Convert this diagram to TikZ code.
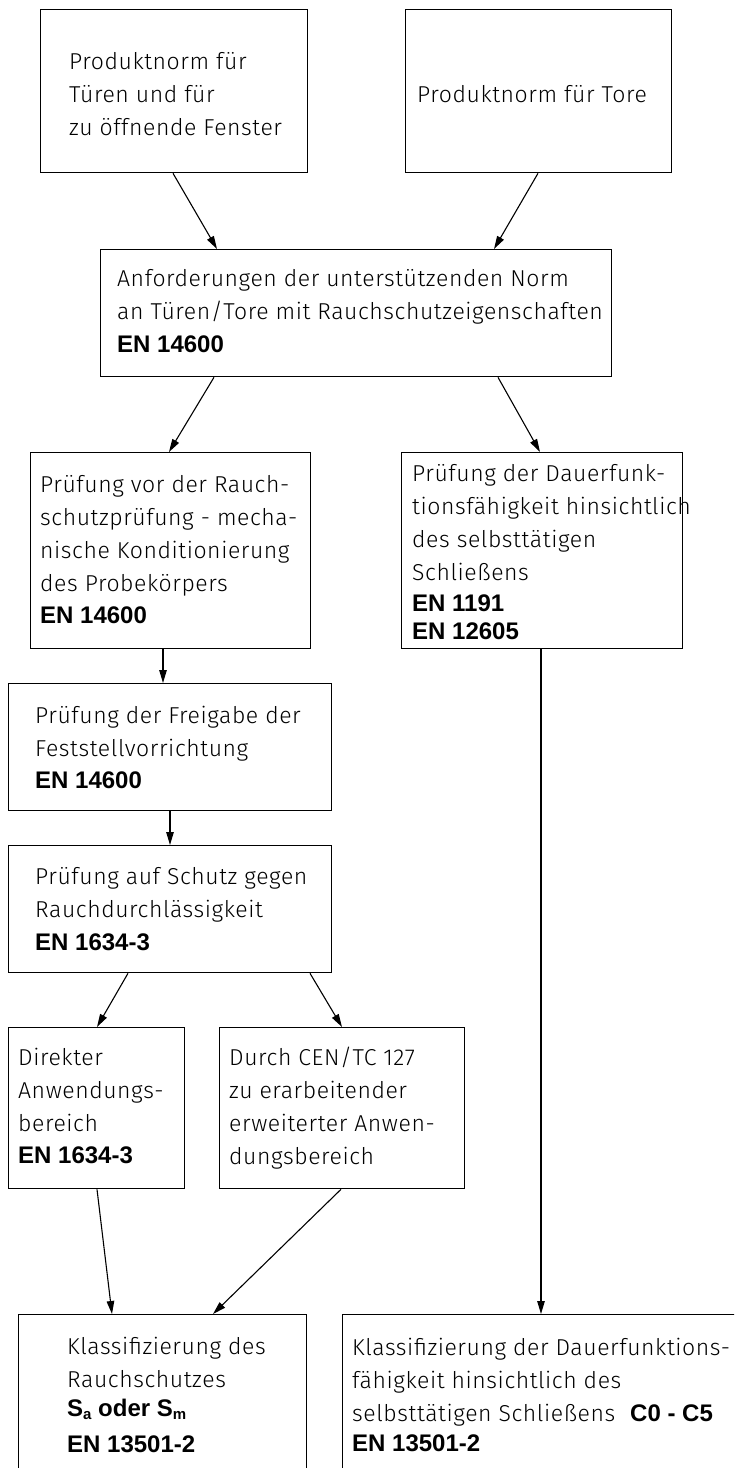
\documentclass[tikz,border=0pt]{standalone}
\usepackage{fontspec}
\usetikzlibrary{arrows.meta,calc}
\IfFontExistsTF{Fira Sans Light}{\newfontfamily\lightfont{Fira Sans Light}[LetterSpace=2.5]}{\newfontfamily\lightfont{Fira Sans}[LetterSpace=2.5]}
\newfontfamily\arialfont{Liberation Sans}
\tikzset{
  box/.style={draw, line width=1.3pt, inner sep=0pt, anchor=north west, rectangle},
  lt/.style={font=\lightfont\fontsize{23}{33}\selectfont, align=left, inner sep=0pt, anchor=base west},
  bt/.style={font=\arialfont\bfseries\fontsize{24}{28}\selectfont, inner sep=0pt, anchor=base west},
  arr/.style={line width=1.1pt, -{Triangle[length=13pt,width=7.5pt]}}
}
\begin{document}
\begin{tikzpicture}[x=1pt,y=-1pt]
\useasboundingbox (0,0) rectangle (734,1468);
\clip (0,0) rectangle (734,1468);
% boxes
\node[box, minimum width=267pt, minimum height=163pt] (b1) at (40,9) {};
\node[box, minimum width=266pt, minimum height=163pt] (b2) at (405,9) {};
\node[box, minimum width=511pt, minimum height=127pt] (b3) at (100,249) {};
\node[box, minimum width=280pt, minimum height=196pt] (b4) at (30,452) {};
\node[box, minimum width=281pt, minimum height=196pt] (b5) at (401,452) {};
\node[box, minimum width=323pt, minimum height=127pt] (b6) at (8,683) {};
\node[box, minimum width=323pt, minimum height=127pt] (b7) at (8,845) {};
\node[box, minimum width=176pt, minimum height=161pt] (b8) at (8,1027) {};
\node[box, minimum width=245pt, minimum height=161pt] (b9) at (219,1027) {};
\node[box, minimum width=288pt, minimum height=200pt] (b10) at (18,1314) {};
\node[box, minimum width=450pt, minimum height=200pt] (b11) at (342,1314) {};
% texts (anchor = baseline of the last line)
\node[lt] (t1) at (69,135) {Produktnorm für\\Türen und für\\zu öffnende Fenster};
\node[lt] (t2) at (417,102) {Produktnorm für Tore};
\node[lt] (t3) at (117,319) {Anforderungen der unterstützenden Norm\\an Türen/Tore mit Rauchschutzeigenschaften};
\node[bt] (t3b) at (117,352) {EN 14600};
\node[lt] (t4) at (40,591) {Prüfung vor der Rauch-\\schutzprüfung - mecha-\\nische Konditionierung\\des Probekörpers};
\node[bt] (t4b) at (40,623) {EN 14600};
\node[lt] (t5) at (412,580) {Prüfung der Dauerfunk-\\tionsfähigkeit hinsichtlich\\des selbsttätigen\\Schließens};
\node[bt] (t5b) at (412,611) {EN 1191};
\node[bt] (t5c) at (412,639) {EN 12605};
\node[lt] (t6) at (35,756) {Prüfung der Freigabe der\\Feststellvorrichtung};
\node[bt] (t6b) at (35,788) {EN 14600};
\node[lt] (t7) at (35,917) {Prüfung auf Schutz gegen\\Rauchdurchlässigkeit};
\node[bt] (t7b) at (35,950) {EN 1634-3};
\node[lt] (t8) at (18,1131) {Direkter\\Anwendungs-\\bereich};
\node[bt] (t8b) at (18,1163) {EN 1634-3};
\node[lt] (t9) at (229,1164) {Durch CEN/TC 127\\zu erarbeitender\\erweiterter Anwen-\\dungsbereich};
\node[lt] (t10) at (67,1387) {Klassifizierung des\\Rauchschutzes};
\node[bt] (t10b) at (67,1416) {S\raisebox{-3pt}{\fontsize{15}{15}\selectfont a} oder S\raisebox{-3pt}{\fontsize{15}{15}\selectfont m}};
\node[bt] (t10c) at (67,1452) {EN 13501-2};
\node[lt] (t11) at (352,1421) {Klassifizierung der Dauerfunktions-\\fähigkeit hinsichtlich des\\selbsttätigen Schließens};
\node[bt] (t11b) at (630,1421) {C0 - C5};
\node[bt] (t11c) at (352,1451) {EN 13501-2};
% connectors
\draw[arr] ($(b1.south west)+(133,0)$) -- ($(b3.north west)+(117,0)$);
\draw[arr] ($(b2.south west)+(133,0)$) -- ($(b3.north west)+(394,0)$);
\draw[arr] ($(b3.south west)+(114,0)$) -- ($(b4.north west)+(139,0)$);
\draw[arr] ($(b3.south west)+(398,0)$) -- ($(b5.north west)+(139,0)$);
\draw[arr] ($(b4.south west)+(133,0)$) -- ($(b6.north west)+(155,0)$);
\draw[arr] ($(b6.south west)+(162,0)$) -- ($(b7.north west)+(162,0)$);
\draw[arr] ($(b7.south west)+(120,0)$) -- ($(b8.north west)+(89,0)$);
\draw[arr] ($(b7.south west)+(302,0)$) -- ($(b9.north west)+(123,0)$);
\draw[arr] ($(b8.south west)+(89,0)$) -- ($(b10.north west)+(94,0)$);
\draw[arr] ($(b9.south west)+(122,0)$) -- ($(b10.north west)+(195,0)$);
\draw[arr] ($(b5.south west)+(140,0)$) -- ($(b11.north west)+(199,0)$);
\end{tikzpicture}
\end{document}
